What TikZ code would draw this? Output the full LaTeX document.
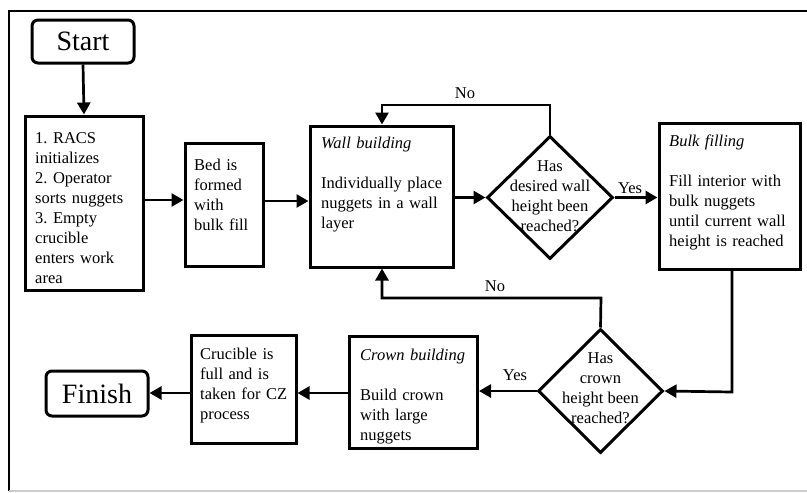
\documentclass[tikz,border=0pt]{standalone}
\usepackage{fontspec}
\setmainfont{Liberation Serif}
\usetikzlibrary{shapes.geometric,arrows.meta}
\frenchspacing
\begin{document}
\begin{tikzpicture}[x=1pt,y=-1pt,
  box/.style={draw,line width=3pt,rectangle,inner sep=0pt},
  term/.style={draw,line width=3pt,rectangle,rounded corners=6pt,inner sep=0pt,font=\fontsize{28}{32}\selectfont},
  dia/.style={draw,line width=3pt,diamond,inner sep=0pt},
  txt/.style={anchor=base west,inner sep=0pt,align=left,font=\fontsize{16.5}{20}\selectfont},
  ctxt/.style={inner sep=0pt,align=center,font=\fontsize{16.5}{20}\selectfont},
  conn/.style={line width=2.7pt,-{Triangle[length=12pt,width=13pt]}},
  line/.style={line width=2.7pt}]
\useasboundingbox (0,0) rectangle (807,493);
% frame
\draw[line width=2.2pt] (9,491) -- (9,11) -- (807,11);
\draw[line width=1.5pt,black!20] (9,491) -- (807,491);

% nodes
\node[term,minimum width=102pt,minimum height=43pt] (start) at (83,41.5) {Start};
\node[box,minimum width=118pt,minimum height=174pt] (init) at (84,203) {};
\node[txt,text width=115pt] (initt) at (35,143) {1. RACS\\initializes\\2. Operator\\sorts nuggets\\3. Empty\\crucible\\enters work\\area};
\node[box,minimum width=78pt,minimum height=123pt] (bed) at (224,204.5) {};
\node[txt,text width=75pt] (bedt) at (194,170) {Bed is\\formed\\with\\bulk fill};
\node[box,minimum width=143pt,minimum height=141pt] (wall) at (381.5,196.5) {};
\node[txt,text width=140pt] (wallt) at (321,148) {\textit{Wall building}\\[20pt]Individually place\\nuggets in a wall\\layer};
\node[dia,minimum width=126pt,minimum height=123pt] (d1) at (550,197.5) {};
\node[ctxt] (d1t) at (550,196) {Has\\desired wall\\height been\\reached?};
\node[box,minimum width=141pt,minimum height=146pt] (bulk) at (729.5,196) {};
\node[txt,text width=140pt] (bulkt) at (669,146) {\textit{Bulk filling}\\[20pt]Fill interior with\\bulk nuggets\\until current wall\\height is reached};
\node[dia,minimum width=125pt,minimum height=124pt] (d2) at (600.5,391) {};
\node[ctxt] (d2t) at (600.5,388) {Has\\crown\\height been\\reached?};
\node[box,minimum width=128pt,minimum height=112pt] (crown) at (413.5,392) {};
\node[txt,text width=125pt] (crownt) at (360,360) {\textit{Crown building}\\[20pt]Build crown\\with large\\nuggets};
\node[box,minimum width=105pt,minimum height=108pt] (cruc) at (243.5,389) {};
\node[txt,text width=103pt] (ruct) at (200,359) {Crucible is\\full and is\\taken for CZ\\process};
\node[term,minimum width=102pt,minimum height=45pt] (finish) at (97,393.5) {Finish};

% connectors
\coordinate (a1) at (550,105);
\coordinate (a2) at (382,105);
\coordinate (b1) at (601,298);
\coordinate (b2) at (382,298);
\coordinate (c1) at (732,392);
\draw[conn] (start.south) -- (init.north);
\draw[conn] (init.east |- 0,200) -- (bed.west |- 0,200);
\draw[conn] (bed.east |- 0,201) -- (wall.west |- 0,201);
\draw[conn] (wall.east |- d1.west) -- (d1.west);
\draw[conn] (d1.east) -- (bulk.west |- d1.east);
\draw[conn] (d1.north) -- (a1) -- (a2) -- (a2 |- wall.north);
\draw[conn] (d2.north) -- (b1) -- (b2) -- (b2 |- wall.south);
\draw[conn] (bulk.south -| c1) -- (c1) -- (d2.east);
\draw[conn] (d2.west) -- (crown.east |- d2.west);
\draw[conn] (crown.west |- 0,393) -- (cruc.east |- 0,393);
\draw[conn] (cruc.west |- 0,393) -- (finish.east |- 0,393);

% labels
\node[ctxt] (no1) at (465,93) {No};
\node[ctxt] (yes1) at (630,188) {Yes};
\node[ctxt] (no2) at (495,286) {No};
\node[ctxt] (yes2) at (515,375) {Yes};
\end{tikzpicture}
\end{document}
